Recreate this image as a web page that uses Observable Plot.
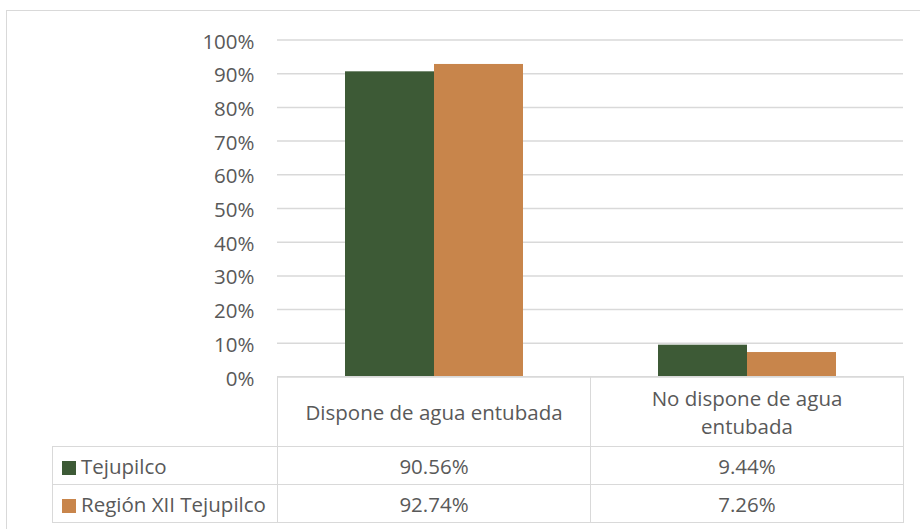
<!DOCTYPE html>
<html>
<head>
<meta charset="utf-8">
<script src="https://cdn.jsdelivr.net/npm/d3@7"></script>
<script src="https://cdn.jsdelivr.net/npm/@observablehq/plot@0.6"></script>
<style>
  body { margin: 0; background: #fff; }
  #wrap { position: relative; width: 920px; height: 529px; overflow: hidden;
          font-family: "Open Sans", sans-serif; color: #595959; background: #fff; }
  #frame { position: absolute; left: 6px; top: 10px; width: 940px; height: 560px;
           border: 1.5px solid #d9d9d9; box-sizing: border-box; }
  #chart { position: absolute; left: 0; top: 0; }
  #tbl { position: absolute; left: 52px; top: 376px; border-collapse: collapse;
         table-layout: fixed; font-size: 20.5px; color: #595959; }
  #tbl td { border: 1.5px solid #d9d9d9; padding: 0; text-align: center; vertical-align: middle; }
  #tbl td.blank { border-top: none; border-left: none; }
  #tbl td.lab { text-align: left; padding-left: 9px; white-space: nowrap; }
  #tbl .hdr { max-width: 275px; margin: 0 auto; line-height: 28px; }
  .sw { display: inline-block; width: 14px; height: 14px; margin-right: 5px; vertical-align: -1px; }
</style>
</head>
<body>
<div id="wrap">
  <div id="frame"></div>
  <div id="chart"></div>
  <table id="tbl"></table>
</div>
<script>
// Categories, series and values (percent of households)
const categories = ["Dispone de agua entubada", "No dispone de agua entubada"];
const series = ["Tejupilco", "Región XII Tejupilco"];
const tejupilco = [90.56, 9.44];
const regionXII = [92.74, 7.26];
const colors = ["#3d5a36", "#c8854b"];
const yTicks = [0, 10, 20, 30, 40, 50, 60, 70, 80, 90, 100];

const values = [tejupilco, regionXII];
const rows = [];
series.forEach((s, i) => categories.forEach((c, j) => rows.push({category: c, series: s, value: values[i][j]})));

const chart = Plot.plot({
  width: 920,
  height: 529,
  marginLeft: 277,
  marginRight: 17,
  marginTop: 39.5,
  marginBottom: 152.5,
  style: {fontFamily: "Open Sans, sans-serif", fontSize: "20.5px", color: "#595959", background: "transparent"},
  fx: {domain: categories, padding: 0, axis: null},
  x: {domain: series, paddingInner: 0, paddingOuter: 0.75, axis: null},
  y: {domain: [0, 100], ticks: yTicks, tickFormat: d => d + "%", tickSize: 0, tickPadding: 23, label: null},
  color: {domain: series, range: colors},
  marks: [
    Plot.ruleY(yTicks, {stroke: "#d9d9d9", strokeWidth: 1.5, strokeOpacity: 1}),
    Plot.axisY({ticks: yTicks, tickFormat: d => d + "%", tickSize: 0, tickPadding: 23, dy: 2, label: null}),
    Plot.barY(rows, {fx: "category", x: "series", y: "value", fill: "series"})
  ]
});
document.getElementById("chart").appendChild(chart);

// Data table under the plot: header row of categories, one row per series
const fmt = v => v.toFixed(2) + "%";
const tbl = d3.select("#tbl");
const cg = tbl.append("colgroup");
cg.append("col").style("width", "225px");
categories.forEach(() => cg.append("col").style("width", "313px"));

const head = tbl.append("tr").style("height", "70px");
head.append("td").attr("class", "blank");
categories.forEach(c => head.append("td").append("div").attr("class", "hdr").text(c));

series.forEach((s, i) => {
  const tr = tbl.append("tr").style("height", "38px");
  const lab = tr.append("td").attr("class", "lab");
  lab.append("span").attr("class", "sw").style("background", colors[i]);
  lab.append("span").text(s);
  values[i].forEach(v => tr.append("td").text(fmt(v)));
});
</script>
</body>
</html>
